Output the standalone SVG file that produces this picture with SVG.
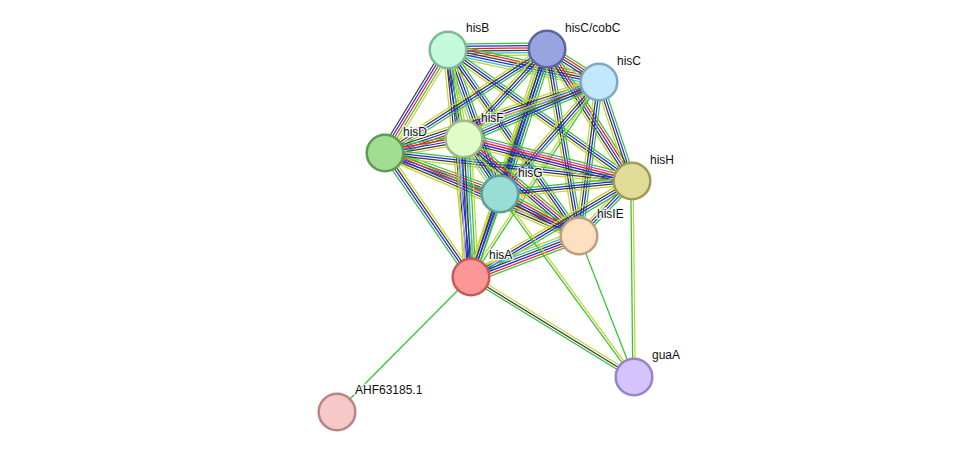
<svg xmlns="http://www.w3.org/2000/svg" width="975" height="457" viewBox="0 0 975 457">
<style>
#edges line{stroke-width:1.25;fill:none;vector-effect:non-scaling-stroke}
#edges > g > g{transform:scale(1,1.2)}
.g{stroke:#33c433}.b{stroke:#2424ee}.k{stroke:#3a3a3a}.y{stroke:#c2d432}.r{stroke:#f02020}.c{stroke:#35b8e0}.m{stroke:#cc44cc}.l{stroke:#a8a8ee}
.n circle{stroke-width:2.5}
.n text{font-family:"Liberation Sans",Arial,sans-serif;font-size:12px;fill:#111;stroke:#fff;stroke-width:3;stroke-opacity:0.75;paint-order:stroke;stroke-linejoin:round}
</style>
<rect width="975" height="457" fill="#fff"/>
<g id="edges">
<g transform="translate(448 50) rotate(-0.58)"><g><line class="g" x2="99" y1="-5" y2="-5"/><line class="b" x2="99" y1="-3" y2="-3"/><line class="r" x2="99" y1="-1" y2="-1"/><line class="k" x2="99" y1="1" y2="1"/><line class="c" x2="99" y1="3" y2="3"/><line class="y" x2="99" y1="5" y2="5"/></g></g>
<g transform="translate(448 50) rotate(11.97)"><g><line class="g" x2="154.4" y1="-5" y2="-5"/><line class="r" x2="154.4" y1="-3" y2="-3"/><line class="k" x2="154.4" y1="-1" y2="-1"/><line class="b" x2="154.4" y1="1" y2="1"/><line class="c" x2="154.4" y1="3" y2="3"/><line class="y" x2="154.4" y1="5" y2="5"/></g></g>
<g transform="translate(448 50) rotate(121.45)"><g><line class="y" x2="120.7" y1="-4" y2="-4"/><line class="g" x2="120.7" y1="-2" y2="-2"/><line class="r" x2="120.7" y1="0" y2="0"/><line class="b" x2="120.7" y1="2" y2="2"/><line class="k" x2="120.7" y1="4" y2="4"/></g></g>
<g transform="translate(448 50) rotate(79.81)"><g><line class="y" x2="90.4" y1="-3" y2="-3"/><line class="g" x2="90.4" y1="-1" y2="-1"/><line class="b" x2="90.4" y1="1" y2="1"/><line class="k" x2="90.4" y1="3" y2="3"/></g></g>
<g transform="translate(448 50) rotate(70.15)"><g><line class="g" x2="153.1" y1="-4" y2="-4"/><line class="b" x2="153.1" y1="-2" y2="-2"/><line class="k" x2="153.1" y1="0" y2="0"/><line class="c" x2="153.1" y1="2" y2="2"/><line class="y" x2="153.1" y1="4" y2="4"/></g></g>
<g transform="translate(448 50) rotate(35.45)"><g><line class="g" x2="225.9" y1="-3" y2="-3"/><line class="b" x2="225.9" y1="-1" y2="-1"/><line class="k" x2="225.9" y1="1" y2="1"/><line class="y" x2="225.9" y1="3" y2="3"/></g></g>
<g transform="translate(448 50) rotate(54.84)"><g><line class="g" x2="227.5" y1="-3" y2="-3"/><line class="b" x2="227.5" y1="-1" y2="-1"/><line class="k" x2="227.5" y1="1" y2="1"/><line class="y" x2="227.5" y1="3" y2="3"/></g></g>
<g transform="translate(448 50) rotate(84.21)"><g><line class="y" x2="228.2" y1="-4" y2="-4"/><line class="g" x2="228.2" y1="-2" y2="-2"/><line class="b" x2="228.2" y1="0" y2="0"/><line class="k" x2="228.2" y1="2" y2="2"/><line class="y" x2="228.2" y1="4" y2="4"/></g></g>
<g transform="translate(547 49) rotate(32.4)"><g><line class="g" x2="61.6" y1="-4" y2="-4"/><line class="r" x2="61.6" y1="-2" y2="-2"/><line class="k" x2="61.6" y1="0" y2="0"/><line class="b" x2="61.6" y1="2" y2="2"/><line class="y" x2="61.6" y1="4" y2="4"/></g></g>
<g transform="translate(547 49) rotate(147.3)"><g><line class="g" x2="192.5" y1="-3" y2="-3"/><line class="b" x2="192.5" y1="-1" y2="-1"/><line class="k" x2="192.5" y1="1" y2="1"/><line class="y" x2="192.5" y1="3" y2="3"/></g></g>
<g transform="translate(547 49) rotate(132.69)"><g><line class="g" x2="122.4" y1="-3" y2="-3"/><line class="b" x2="122.4" y1="-1" y2="-1"/><line class="k" x2="122.4" y1="1" y2="1"/><line class="y" x2="122.4" y1="3" y2="3"/></g></g>
<g transform="translate(547 49) rotate(107.96)"><g><line class="g" x2="152.4" y1="-5" y2="-5"/><line class="b" x2="152.4" y1="-3" y2="-3"/><line class="b" x2="152.4" y1="-1" y2="-1"/><line class="k" x2="152.4" y1="1" y2="1"/><line class="g" x2="152.4" y1="3" y2="3"/><line class="y" x2="152.4" y1="5" y2="5"/></g></g>
<g transform="translate(547 49) rotate(57.22)"><g><line class="g" x2="157" y1="-4" y2="-4"/><line class="r" x2="157" y1="-2" y2="-2"/><line class="b" x2="157" y1="0" y2="0"/><line class="k" x2="157" y1="2" y2="2"/><line class="y" x2="157" y1="4" y2="4"/></g></g>
<g transform="translate(547 49) rotate(80.29)"><g><line class="g" x2="189.7" y1="-3" y2="-3"/><line class="b" x2="189.7" y1="-1" y2="-1"/><line class="k" x2="189.7" y1="1" y2="1"/><line class="y" x2="189.7" y1="3" y2="3"/></g></g>
<g transform="translate(547 49) rotate(108.43)"><g><line class="g" x2="240.3" y1="-3" y2="-3"/><line class="b" x2="240.3" y1="-1" y2="-1"/><line class="k" x2="240.3" y1="1" y2="1"/><line class="y" x2="240.3" y1="3" y2="3"/></g></g>
<g transform="translate(599 82) rotate(161.64)"><g><line class="g" x2="225.5" y1="-4" y2="-4"/><line class="r" x2="225.5" y1="-2" y2="-2"/><line class="b" x2="225.5" y1="0" y2="0"/><line class="k" x2="225.5" y1="2" y2="2"/><line class="y" x2="225.5" y1="4" y2="4"/></g></g>
<g transform="translate(599 82) rotate(157.11)"><g><line class="g" x2="146.5" y1="-4" y2="-4"/><line class="b" x2="146.5" y1="-2" y2="-2"/><line class="k" x2="146.5" y1="0" y2="0"/><line class="c" x2="146.5" y1="2" y2="2"/><line class="y" x2="146.5" y1="4" y2="4"/></g></g>
<g transform="translate(599 82) rotate(131.48)"><g><line class="g" x2="149.5" y1="-3" y2="-3"/><line class="b" x2="149.5" y1="-1" y2="-1"/><line class="k" x2="149.5" y1="1" y2="1"/><line class="y" x2="149.5" y1="3" y2="3"/></g></g>
<g transform="translate(599 82) rotate(71.57)"><g><line class="g" x2="104.4" y1="-3" y2="-3"/><line class="b" x2="104.4" y1="-1" y2="-1"/><line class="k" x2="104.4" y1="1" y2="1"/><line class="y" x2="104.4" y1="3" y2="3"/></g></g>
<g transform="translate(599 82) rotate(97.4)"><g><line class="g" x2="155.3" y1="-3" y2="-3"/><line class="b" x2="155.3" y1="-1" y2="-1"/><line class="k" x2="155.3" y1="1" y2="1"/><line class="y" x2="155.3" y1="3" y2="3"/></g></g>
<g transform="translate(599 82) rotate(123.28)"><g><line class="g" x2="233.3" y1="-1" y2="-1"/><line class="y" x2="233.3" y1="1" y2="1"/></g></g>
<g transform="translate(385 153) rotate(-10.05)"><g><line class="g" x2="80.2" y1="-4" y2="-4"/><line class="r" x2="80.2" y1="-2" y2="-2"/><line class="b" x2="80.2" y1="0" y2="0"/><line class="k" x2="80.2" y1="2" y2="2"/><line class="y" x2="80.2" y1="4" y2="4"/></g></g>
<g transform="translate(385 153) rotate(19.62)"><g><line class="g" x2="122.1" y1="-4" y2="-4"/><line class="r" x2="122.1" y1="-2" y2="-2"/><line class="b" x2="122.1" y1="0" y2="0"/><line class="k" x2="122.1" y1="2" y2="2"/><line class="y" x2="122.1" y1="4" y2="4"/></g></g>
<g transform="translate(385 153) rotate(6.47)"><g><line class="g" x2="248.6" y1="-3" y2="-3"/><line class="b" x2="248.6" y1="-1" y2="-1"/><line class="k" x2="248.6" y1="1" y2="1"/><line class="y" x2="248.6" y1="3" y2="3"/></g></g>
<g transform="translate(385 153) rotate(23.17)"><g><line class="g" x2="211" y1="-4" y2="-4"/><line class="r" x2="211" y1="-2" y2="-2"/><line class="b" x2="211" y1="0" y2="0"/><line class="k" x2="211" y1="2" y2="2"/><line class="y" x2="211" y1="4" y2="4"/></g></g>
<g transform="translate(385 153) rotate(55.26)"><g><line class="y" x2="150.9" y1="-3" y2="-3"/><line class="k" x2="150.9" y1="-1" y2="-1"/><line class="b" x2="150.9" y1="1" y2="1"/><line class="g" x2="150.9" y1="3" y2="3"/></g></g>
<g transform="translate(464 139) rotate(56.79)"><g><line class="g" x2="65.7" y1="-4" y2="-4"/><line class="b" x2="65.7" y1="-2" y2="-2"/><line class="k" x2="65.7" y1="0" y2="0"/><line class="c" x2="65.7" y1="2" y2="2"/><line class="y" x2="65.7" y1="4" y2="4"/></g></g>
<g transform="translate(464 139) rotate(14.04)"><g><line class="g" x2="173.2" y1="-5" y2="-5"/><line class="m" x2="173.2" y1="-3" y2="-3"/><line class="r" x2="173.2" y1="-1" y2="-1"/><line class="b" x2="173.2" y1="1" y2="1"/><line class="k" x2="173.2" y1="3" y2="3"/><line class="y" x2="173.2" y1="5" y2="5"/></g></g>
<g transform="translate(464 139) rotate(40.15)"><g><line class="g" x2="150.4" y1="-4" y2="-4"/><line class="r" x2="150.4" y1="-2" y2="-2"/><line class="b" x2="150.4" y1="0" y2="0"/><line class="k" x2="150.4" y1="2" y2="2"/><line class="y" x2="150.4" y1="4" y2="4"/></g></g>
<g transform="translate(464 139) rotate(87.1)"><g><line class="y" x2="138.2" y1="-6" y2="-6"/><line class="g" x2="138.2" y1="-4" y2="-4"/><line class="c" x2="138.2" y1="-2" y2="-2"/><line class="k" x2="138.2" y1="0" y2="0"/><line class="b" x2="138.2" y1="2" y2="2"/><line class="l" x2="138.2" y1="4" y2="4"/><line class="y" x2="138.2" y1="6" y2="6"/></g></g>
<g transform="translate(500 194) rotate(-5.62)"><g><line class="g" x2="132.6" y1="-3" y2="-3"/><line class="b" x2="132.6" y1="-1" y2="-1"/><line class="k" x2="132.6" y1="1" y2="1"/><line class="y" x2="132.6" y1="3" y2="3"/></g></g>
<g transform="translate(500 194) rotate(27.99)"><g><line class="g" x2="89.5" y1="-4" y2="-4"/><line class="r" x2="89.5" y1="-2" y2="-2"/><line class="b" x2="89.5" y1="0" y2="0"/><line class="k" x2="89.5" y1="2" y2="2"/><line class="y" x2="89.5" y1="4" y2="4"/></g></g>
<g transform="translate(500 194) rotate(109.26)"><g><line class="g" x2="87.9" y1="-3" y2="-3"/><line class="b" x2="87.9" y1="-1" y2="-1"/><line class="k" x2="87.9" y1="1" y2="1"/><line class="y" x2="87.9" y1="3" y2="3"/></g></g>
<g transform="translate(632 181) rotate(133.94)"><g><line class="g" x2="76.4" y1="-3" y2="-3"/><line class="b" x2="76.4" y1="-1" y2="-1"/><line class="k" x2="76.4" y1="1" y2="1"/><line class="y" x2="76.4" y1="3" y2="3"/></g></g>
<g transform="translate(632 181) rotate(149.19)"><g><line class="g" x2="187.4" y1="-3" y2="-3"/><line class="b" x2="187.4" y1="-1" y2="-1"/><line class="k" x2="187.4" y1="1" y2="1"/><line class="y" x2="187.4" y1="3" y2="3"/></g></g>
<g transform="translate(579 236) rotate(159.21)"><g><line class="g" x2="115.5" y1="-5" y2="-5"/><line class="r" x2="115.5" y1="-3" y2="-3"/><line class="b" x2="115.5" y1="-1" y2="-1"/><line class="k" x2="115.5" y1="1" y2="1"/><line class="c" x2="115.5" y1="3" y2="3"/><line class="y" x2="115.5" y1="5" y2="5"/></g></g>
<g transform="translate(471 277) rotate(31.53)"><g><line class="y" x2="191.2" y1="-2" y2="-2"/><line class="k" x2="191.2" y1="0" y2="0"/><line class="g" x2="191.2" y1="2" y2="2"/></g></g>
<g transform="translate(632 181) rotate(89.42)"><g><line class="y" x2="196" y1="-1" y2="-1"/><line class="g" x2="196" y1="1" y2="1"/></g></g>
<g transform="translate(500 194) rotate(53.78)"><g><line class="y" x2="226.8" y1="-1" y2="-1"/><line class="g" x2="226.8" y1="1" y2="1"/></g></g>
<line class="g" x1="579" y1="236" x2="634" y2="377"/>
<line class="g" x1="471" y1="277" x2="337" y2="412"/>
</g>
<g id="hisB" class="n"><circle cx="448" cy="50" r="18.3" fill="#c2fadb" stroke="#7fb896"/><text x="466" y="32">hisB</text></g>
<g id="hisC_cobC" class="n"><circle cx="547" cy="49" r="18.3" fill="#98a4df" stroke="#5b65a3"/><text x="565" y="32">hisC/cobC</text></g>
<g id="hisC" class="n"><circle cx="599" cy="82" r="18.3" fill="#c3e8fb" stroke="#7fa7c4"/><text x="617" y="65">hisC</text></g>
<g id="hisD" class="n"><circle cx="385" cy="153" r="18.3" fill="#a2de92" stroke="#5e9a56"/><text x="403" y="136">hisD</text></g>
<g id="hisF" class="n"><circle cx="464" cy="139" r="18.3" fill="#e1fcc6" stroke="#a0b986"/><text x="481" y="122">hisF</text></g>
<g id="hisG" class="n"><circle cx="500" cy="194" r="18.3" fill="#99ded6" stroke="#5c9e98"/><text x="518" y="177">hisG</text></g>
<g id="hisH" class="n"><circle cx="632" cy="181" r="18.3" fill="#dfdc97" stroke="#9e9b57"/><text x="650" y="164">hisH</text></g>
<g id="hisIE" class="n"><circle cx="579" cy="236" r="18.3" fill="#fddfc2" stroke="#bd9e7f"/><text x="597" y="218">hisIE</text></g>
<g id="hisA" class="n"><circle cx="471" cy="277" r="18.3" fill="#fd9797" stroke="#c25a5a"/><text x="489" y="259">hisA</text></g>
<g id="guaA" class="n"><circle cx="634" cy="377" r="18.3" fill="#d4c3fc" stroke="#9683c8"/><text x="652" y="359">guaA</text></g>
<g id="AHF63185_1" class="n"><circle cx="337" cy="412" r="18.3" fill="#f7c8c8" stroke="#b88585"/><text x="355" y="394">AHF63185.1</text></g>
</svg>
